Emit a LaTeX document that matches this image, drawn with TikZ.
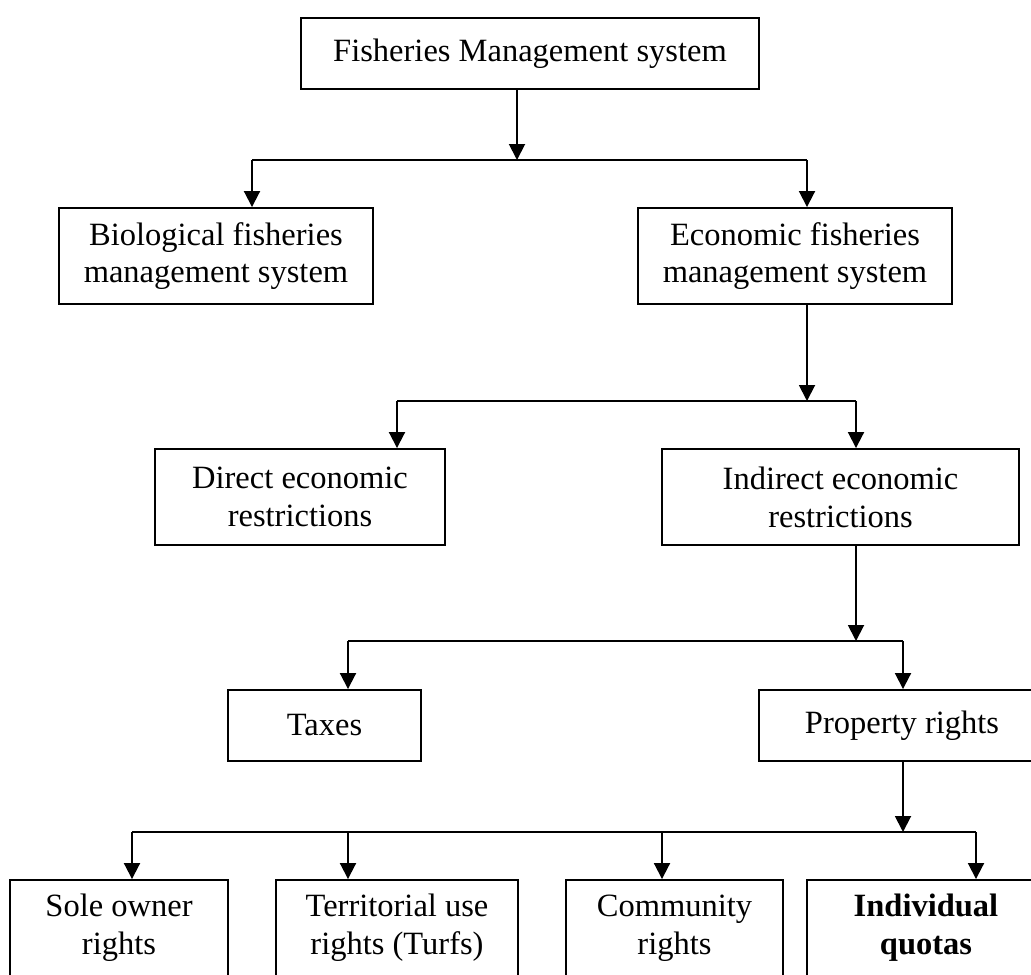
\documentclass[tikz,border=0pt]{standalone}
\usepackage{fontspec}
\setmainfont{Liberation Serif}
\usetikzlibrary{arrows.meta}
\tikzstyle{box}=[draw, rectangle, line width=1.1pt, align=center, inner sep=0pt, font=\fontsize{18.5}{21.5}\selectfont]
\tikzstyle{arr}=[-{Triangle[length=0.32cm,width=0.32cm]}, line width=1.1pt]
\tikzstyle{bus}=[line width=1.1pt]

\begin{document}
\begin{tikzpicture}[x=0.02cm, y=-0.02cm]

\useasboundingbox (0,0) rectangle (1031,974);
\clip (0,0) rectangle (1031,974);

% boxes
\node[box, minimum width=9.16cm, minimum height=1.42cm] (fms) at (530,53.5) {Fisheries Management system};
\node[box, minimum width=6.28cm, minimum height=1.92cm] (bio) at (216,256) {Biological fisheries\\management system};
\node[box, minimum width=6.28cm, minimum height=1.92cm] (eco) at (795,256) {Economic fisheries\\management system};
\node[box, minimum width=5.8cm, minimum height=1.92cm] (direct) at (300,497) {Direct economic\\restrictions};
\node[box, minimum width=7.14cm, minimum height=1.92cm] (indirect) at (840.5,497) {Indirect economic\\restrictions};
\node[box, minimum width=3.86cm, minimum height=1.42cm] (taxes) at (324.5,725.5) {Taxes};
\node[box, minimum width=5.72cm, minimum height=1.42cm] (prop) at (902,725.5) {Property rights};
\node[box, minimum width=4.36cm, minimum height=1.92cm] (sole) at (119,928) {Sole owner\\rights};
\node[box, minimum width=4.84cm, minimum height=1.92cm] (terr) at (397,928) {Territorial use\\rights (Turfs)};
\node[box, minimum width=4.34cm, minimum height=1.92cm] (comm) at (674.5,928) {Community\\rights};
\node[box, minimum width=4.76cm, minimum height=1.92cm, font=\fontsize{18.5}{21.5}\selectfont\bfseries] (indiv) at (926,928) {Individual\\quotas};

% level 1
\coordinate (j1) at (517,160);
\coordinate (j1l) at (252,160);
\coordinate (j1r) at (807,160);
\draw[arr] (fms.south -| j1) -- (j1);
\draw[bus] (j1l) -- (j1r);
\draw[arr] (j1l) -- (j1l |- bio.north);
\draw[arr] (j1r) -- (j1r |- eco.north);

% level 2
\coordinate (j2) at (807,401);
\coordinate (j2l) at (397,401);
\coordinate (j2r) at (856,401);
\draw[arr] (eco.south -| j2) -- (j2);
\draw[bus] (j2l) -- (j2r);
\draw[arr] (j2l) -- (j2l |- direct.north);
\draw[arr] (j2r) -- (j2r |- indirect.north);

% level 3
\coordinate (j3) at (856,641);
\coordinate (j3l) at (348,641);
\coordinate (j3r) at (903,641);
\draw[arr] (indirect.south -| j3) -- (j3);
\draw[bus] (j3l) -- (j3r);
\draw[arr] (j3l) -- (j3l |- taxes.north);
\draw[arr] (j3r) -- (j3r |- prop.north);

% level 4
\coordinate (j4) at (903,832);
\draw[arr] (prop.south -| j4) -- (j4);
\draw[bus] (132,832) -- (976,832);
\foreach \n/\x in {sole/132, terr/348, comm/662, indiv/976}
{
  \coordinate (t) at (\x,832);
  \draw[arr] (t) -- (t |- \n.north);
}

\end{tikzpicture}
\end{document}
